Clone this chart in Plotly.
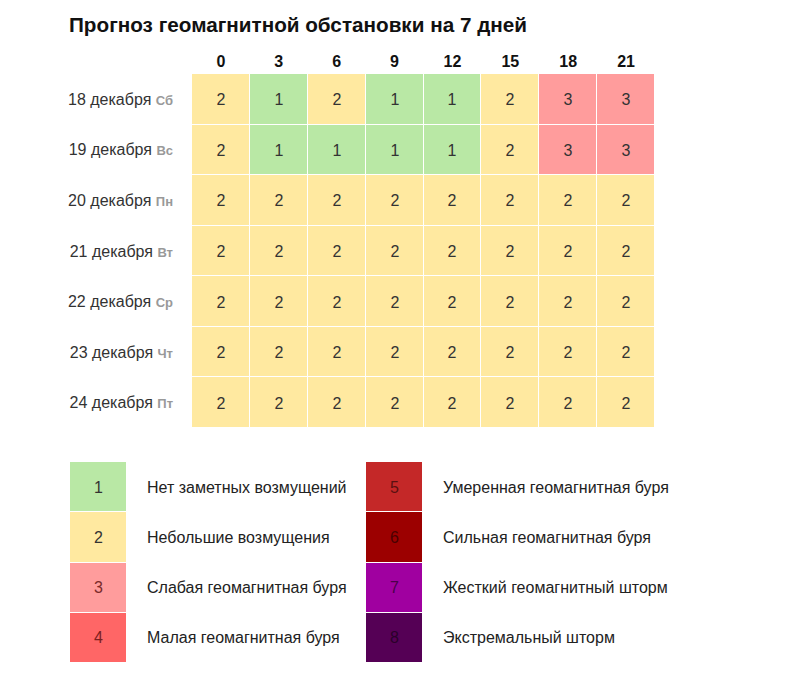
import plotly.graph_objects as go

W, H = 795, 689
OFF = 8  # page body margin

hours = ["0", "3", "6", "9", "12", "15", "18", "21"]
dates = ["18 декабря", "19 декабря", "20 декабря", "21 декабря",
         "22 декабря", "23 декабря", "24 декабря"]
weekdays = ["Сб", "Вс", "Пн", "Вт", "Ср", "Чт", "Пт"]
kp = [
    [2, 1, 2, 1, 1, 2, 3, 3],
    [2, 1, 1, 1, 1, 2, 3, 3],
    [2, 2, 2, 2, 2, 2, 2, 2],
    [2, 2, 2, 2, 2, 2, 2, 2],
    [2, 2, 2, 2, 2, 2, 2, 2],
    [2, 2, 2, 2, 2, 2, 2, 2],
    [2, 2, 2, 2, 2, 2, 2, 2],
]
levels = [1, 2, 3, 4, 5, 6, 7, 8]
level_names = ["Нет заметных возмущений", "Небольшие возмущения",
               "Слабая геомагнитная буря", "Малая геомагнитная буря",
               "Умеренная геомагнитная буря", "Сильная геомагнитная буря",
               "Жесткий геомагнитный шторм", "Экстремальный шторм"]
level_colors = ["#b9e8a5", "#ffe9a0", "#ff9c9c", "#ff6666",
                "#c42828", "#9c0000", "#a000a0", "#550055"]
level_text_colors = ["#333333", "#333333", "#7a2a2a", "#7a2020",
                     "#5a1010", "#4a0000", "#4a004a", "#2a002a"]

cs = []
for i, c in enumerate(level_colors):
    cs.append([i / 8, c])
    cs.append([(i + 1) / 8, c])

def px(x):
    return (x - OFF) / W

def py(y):
    return 1 - (y - OFF) / H

row_labels = [f"{d} <span style='color:#999999;font-size:13px'><b>{w}</b></span>"
              for d, w in zip(dates, weekdays)]

font = "Liberation Sans, Arial, sans-serif"

fig = go.Figure()
fig.add_trace(go.Heatmap(
    z=kp, x=hours, y=row_labels, colorscale=cs, zmin=0.5, zmax=8.5,
    showscale=False, xgap=1, ygap=1,
    texttemplate="%{z}", textfont=dict(size=16, color="#333333", family=font),
    hoverinfo="skip", xaxis="x", yaxis="y",
))

left = levels[:4]
right = levels[4:]
fig.add_trace(go.Heatmap(
    z=[[v] for v in left], x=["k"], y=level_names[:4], colorscale=cs,
    zmin=0.5, zmax=8.5, showscale=False, ygap=1, hoverinfo="skip",
    xaxis="x2", yaxis="y2",
))
fig.add_trace(go.Heatmap(
    z=[[v] for v in right], x=["k"], y=level_names[4:], colorscale=cs,
    zmin=0.5, zmax=8.5, showscale=False, ygap=1, hoverinfo="skip",
    xaxis="x3", yaxis="y3",
))

annotations = []
for i, v in enumerate(left):
    annotations.append(dict(x="k", y=level_names[i], xref="x2", yref="y2",
                            text=str(v), showarrow=False,
                            font=dict(size=16, color=level_text_colors[v - 1])))
for i, v in enumerate(right):
    annotations.append(dict(x="k", y=level_names[4 + i], xref="x3", yref="y3",
                            text=str(v), showarrow=False,
                            font=dict(size=16, color=level_text_colors[v - 1])))

fig.update_layout(
    width=W, height=H,
    margin=dict(l=0, r=0, t=0, b=0),
    paper_bgcolor="white", plot_bgcolor="white",
    font=dict(family=font, color="#222222", size=16),
    title=dict(text="<b>Прогноз геомагнитной обстановки на 7 дней</b>",
               x=px(69), xanchor="left", y=py(25), yanchor="middle",
               font=dict(size=20.7, color="#111111", family=font)),
    xaxis=dict(domain=[px(192), px(655)], side="top", showgrid=False,
               zeroline=False, showline=False, ticks="",
               tickfont=dict(size=16, color="#111111"),
               ticklabelstandoff=3,
               tickvals=hours, ticktext=[f"<b>{h}</b>" for h in hours],
               fixedrange=True),
    yaxis=dict(domain=[py(428), py(74)], autorange="reversed", showgrid=False,
               zeroline=False, showline=False, ticks="",
               tickfont=dict(size=16, color="#333333"),
               ticklabelstandoff=18, fixedrange=True),
    xaxis2=dict(domain=[px(70), px(126)], showticklabels=False, showgrid=False,
                zeroline=False, fixedrange=True),
    yaxis2=dict(domain=[py(663), py(462)], anchor="x2", side="right",
                autorange="reversed", showgrid=False, zeroline=False, ticks="",
                tickfont=dict(size=16, color="#222222"),
                ticklabelstandoff=20, fixedrange=True),
    xaxis3=dict(domain=[px(366), px(422)], showticklabels=False, showgrid=False,
                zeroline=False, fixedrange=True),
    yaxis3=dict(domain=[py(663), py(462)], anchor="x3", side="right",
                autorange="reversed", showgrid=False, zeroline=False, ticks="",
                tickfont=dict(size=16, color="#222222"),
                ticklabelstandoff=20, fixedrange=True),
    annotations=annotations,
)

fig.write_html("out.html")
